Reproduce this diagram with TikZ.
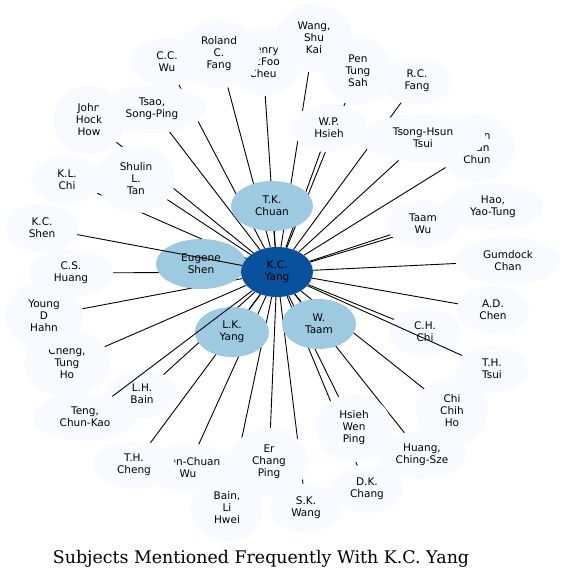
\documentclass[tikz,border=0pt]{standalone}
\usepackage{fontspec}
\usetikzlibrary{shapes.geometric}
\newfontfamily\namefont{DejaVu Sans}
\newfontfamily\titlefont{DejaVu Serif}
\definecolor{hubblue}{RGB}{8,81,156}
\definecolor{midblue}{RGB}{158,202,225}
\definecolor{paleblue}{RGB}{247,251,255}
\pgfdeclarelayer{background}
\pgfsetlayers{background,main}

\begin{document}
\begin{tikzpicture}[x=1pt, y=-1pt,
    person/.style={ellipse, fill=paleblue, minimum width=72pt,
                   minimum height=48pt, inner sep=0pt, align=center,
                   font=\namefont\fontsize{10.5}{12}\selectfont},
    tall/.style={minimum height=68pt},
    peer/.style={person, fill=midblue, minimum width=74pt,
                 minimum height=50pt},
    hub/.style={person, fill=hubblue, minimum width=72pt,
                minimum height=50pt},
    link/.style={line width=0.9pt}
]
\useasboundingbox (0,0) rectangle (566,579);

% outer ring
\node[person, tall, minimum width=76pt] (henry) at (263,62) {Henry\\McFoo\\Cheu};
\node[person, tall, minimum width=82pt] (roland) at (219,54) {Roland\\C.\\Fang};
\node[person, tall, minimum width=76pt] (wang) at (314,38) {Wang,\\Shu\\Kai};
\node[person] (ccwu) at (167,62) {C.C.\\Wu};
\node[person, tall] (john) at (89,120) {John\\Hock\\How};
\node[person, minimum width=108pt] (tsao) at (152,109) {Tsao,\\Song-Ping};
\node[person] (klchi) at (67,180) {K.L.\\Chi};
\node[person, tall, minimum width=78pt] (shulin) at (136,179) {Shulin\\L.\\Tan};
\node[person, minimum width=73pt] (kcshen) at (42,228) {K.C.\\Shen};
\node[person, minimum width=84pt] (cshuang) at (71,273) {C.S.\\Huang};
\node[person, tall, minimum width=85pt] (tungho) at (67,363) {Cheng,\\Tung\\Ho};
\node[person, tall, minimum width=78pt] (hahn) at (44,316) {Young\\D\\Hahn};
\node[person] (lhbain) at (142,394) {L.H.\\Bain};
\node[person, minimum width=104pt] (teng) at (85,417) {Teng,\\Chun-Kao};
\node[person, minimum width=96pt] (chuanwu) at (188,468) {Chen-Chuan\\Wu};
\node[person, minimum width=82pt] (thcheng) at (134,465) {T.H.\\Cheng};
\node[person, tall] (lihwei) at (227,508) {Bain,\\Li\\Hwei};
\node[person, tall, minimum width=78pt] (erping) at (269,462) {Er\\Chang\\Ping};
\node[person] (skwang) at (306,508) {S.K.\\Wang};
\node[person, tall, minimum width=76pt] (wenping) at (354,428) {Hsieh\\Wen\\Ping};
\node[person] (dkchang) at (367,489) {D.K.\\Chang};
\node[person, tall] (chihho) at (452,411) {Chi\\Chih\\Ho};
\node[person, minimum width=88pt] (chingsze) at (422,455) {Huang,\\Ching-Sze};
\node[person] (thtsui) at (492,369) {T.H.\\Tsui};
\node[person] (chchi) at (425,332) {C.H.\\Chi};
\node[person] (adchen) at (493,310) {A.D.\\Chen};
\node[person, minimum width=104pt] (gumdock) at (508,261) {Gumdock\\Chan};
\node[person, minimum width=100pt] (yaotung) at (493,207) {Hao,\\Yao-Tung};
\node[person] (taamwu) at (423,224) {Taam\\Wu};
\node[person, tall, minimum width=76pt] (yuanchun) at (477,148) {Chen\\Yuan\\Chun};
\node[person, minimum width=126pt] (tsonghsun) at (423,138) {Tsong-Hsun\\Tsui};
\node[person, minimum width=75pt] (wphsieh) at (329,128) {W.P.\\Hsieh};
\node[person, tall, minimum width=70pt] (pensah) at (358,71) {Pen\\Tung\\Sah};
\node[person, minimum width=70pt] (rcfang) at (417,81) {R.C.\\Fang};

% inner ring
\node[peer, minimum width=82pt] (tkchuan) at (272,206) {T.K.\\Chuan};
\node[peer, minimum width=90pt] (eshen) at (201,264) {Eugene\\Shen};
\node[peer] (lkyang) at (232,332) {L.K.\\Yang};
\node[peer] (wtaam) at (319,324) {W.\\Taam};

\node[hub] (yang) at (277,272) {K.C.\\Yang};

\begin{pgfonlayer}{background}
\foreach \other in {henry,roland,wang,ccwu,john,tsao,klchi,shulin,cshuang,
    tungho,hahn,lhbain,chuanwu,thcheng,lihwei,erping,skwang,wenping,
    dkchang,chihho,chingsze,chchi,adchen,gumdock,yaotung,taamwu,
    yuanchun,tsonghsun,wphsieh,pensah,rcfang,tkchuan,eshen,lkyang,wtaam}
  \draw[link] (yang) -- (\other);
\end{pgfonlayer}

\foreach \other in {kcshen,thtsui,teng}
  \draw[link] (yang) -- (\other);

\node[font=\titlefont\fontsize{17.4}{21}\selectfont, anchor=base] (title)
  at (261,563) {Subjects Mentioned Frequently With K.C. Yang};

\end{tikzpicture}
\end{document}
